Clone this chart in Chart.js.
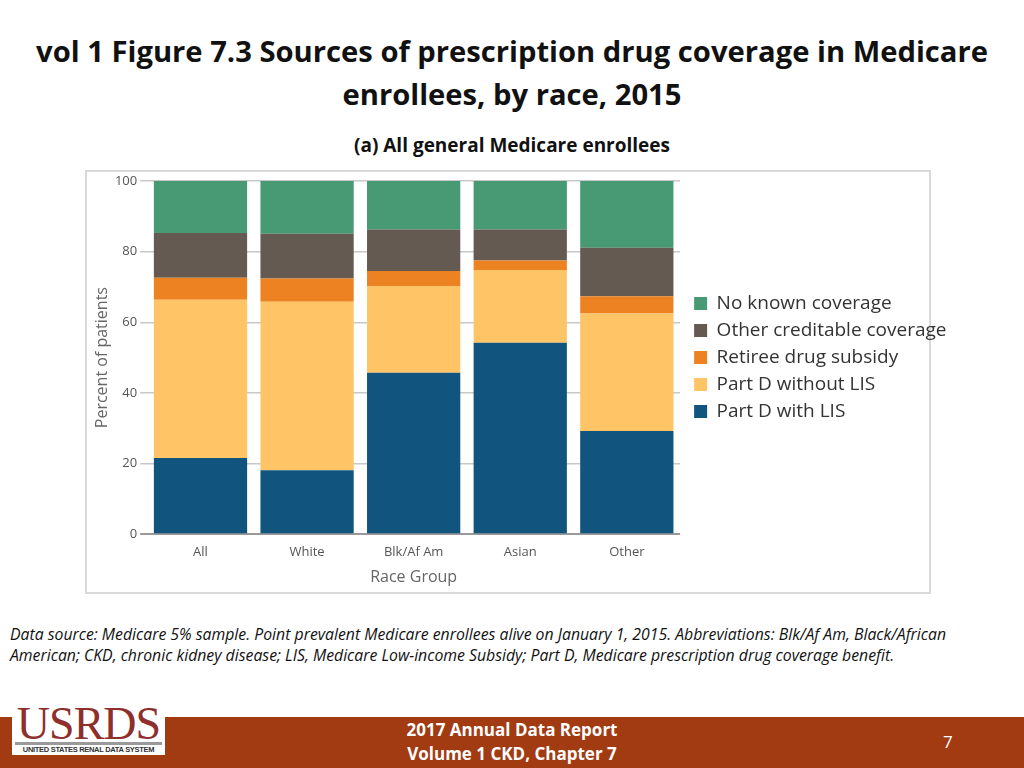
<!DOCTYPE html>
<html>
<head>
<meta charset="utf-8">
<script src="https://cdn.jsdelivr.net/npm/chart.js@4/dist/chart.umd.min.js"></script>
<style>
  body { margin: 0; width: 1024px; height: 768px; position: relative; background: #fff; overflow: hidden; font-family: "Open Sans", sans-serif; }
  #title { position: absolute; top: 30px; left: 0; width: 1024px; text-align: center; font-weight: bold; font-size: 29.2px; line-height: 43px; color: #111; white-space: nowrap; }
  #subtitle { position: absolute; top: 132px; left: 0; width: 1024px; text-align: center; font-weight: bold; font-size: 19px; color: #111; }
  #frame { position: absolute; left: 85px; top: 170px; width: 842px; height: 420px; border: 2px solid #d9d9d9; }
  #chart-box { position: absolute; left: 85px; top: 170px; width: 870px; height: 422px; }
  #note { position: absolute; left: 10px; top: 624px; width: 1010px; font-style: italic; font-size: 15.8px; line-height: 21px; color: #111; white-space: nowrap; }
  #footer { position: absolute; left: 0; top: 717px; width: 1024px; height: 51px; background: #a23a12; }
  #footer .mid { position: absolute; left: 0; width: 1024px; text-align: center; color: #fff; font-weight: bold; font-size: 17px; }
  #page { position: absolute; left: 943px; top: 730px; color: #fff; font-size: 17px; }
  #logo { position: absolute; left: 12px; top: 703px; width: 153px; height: 52px; background: #fff; }
  #logo .big { position: absolute; left: 0; top: -6px; width: 153px; text-align: center; font-family: "Liberation Serif", serif; font-size: 46px; color: #8e2f2b; letter-spacing: -1px; }
  #logo .bar { position: absolute; left: 3px; top: 39px; width: 147px; height: 3px; background: #9a9a9a; }
  #logo .small { position: absolute; left: 0; top: 42px; width: 153px; text-align: center; font-family: "Liberation Sans", sans-serif; font-weight: bold; font-size: 7.5px; color: #333; letter-spacing: -0.3px; white-space: nowrap; }
</style>
</head>
<body>
<div id="title">vol 1 Figure 7.3 Sources of prescription drug coverage in Medicare<br>enrollees, by race, 2015</div>
<div id="subtitle">(a) All general Medicare enrollees</div>
<div id="frame"></div>
<div id="chart-box"><canvas id="myChart"></canvas></div>
<div id="note">Data source: Medicare 5% sample. Point prevalent Medicare enrollees alive on January 1, 2015. Abbreviations: Blk/Af Am, Black/African<br>American; CKD, chronic kidney disease; LIS, Medicare Low-income Subsidy; Part D, Medicare prescription drug coverage benefit.</div>
<div id="footer">
  <div class="mid" style="top: 1px;">2017 Annual Data Report</div>
  <div class="mid" style="top: 25px;">Volume 1 CKD, Chapter 7</div>
</div>
<div id="logo"><div class="big">USRDS</div><div class="bar"></div><div class="small">UNITED STATES RENAL DATA SYSTEM</div></div>
<div id="page">7</div>
<script>
const raceGroups = ["All", "White", "Blk/Af Am", "Asian", "Other"];
const partDWithLIS = [21.6, 18.1, 45.7, 54.2, 29.2];
const partDWithoutLIS = [44.8, 47.7, 24.6, 20.6, 33.3];
const retireeSubsidy = [6.2, 6.6, 4.2, 2.7, 4.9];
const otherCreditable = [12.7, 12.7, 11.8, 8.8, 13.7];
const noKnownCoverage = [14.7, 14.9, 13.7, 13.7, 18.9];
const yTicks = [0, 20, 40, 60, 80, 100];

const ctx = document.getElementById('myChart');
const axisFont = { family: "'Open Sans', sans-serif", size: 13 };

// nudge the legend a bit away from the plot, like the original
const legendGap = {
    id: 'legendGap',
    afterLayout(chart) {
        if (chart.legend) {
            chart.legend.left += 6;
            chart.legend.right += 6;
        }
    }
};

// Bars stack bottom-up in this order, legend shows them reversed
const myChart = new Chart(ctx, {
    type: 'bar',
    plugins: [legendGap],
    data: {
        labels: raceGroups,
        datasets: [
            { label: 'Part D with LIS', data: partDWithLIS, backgroundColor: '#11557f' },
            { label: 'Part D without LIS', data: partDWithoutLIS, backgroundColor: '#fec466' },
            { label: 'Retiree drug subsidy', data: retireeSubsidy, backgroundColor: '#ec8222' },
            { label: 'Other creditable coverage', data: otherCreditable, backgroundColor: '#655a51' },
            { label: 'No known coverage', data: noKnownCoverage, backgroundColor: '#479a74' }
        ]
    },
    options: {
        responsive: true,
        maintainAspectRatio: false,
        animation: false,
        layout: { padding: { top: 11, left: 7.7, right: 4.5, bottom: 5 } },
        datasets: { bar: { barPercentage: 1, categoryPercentage: 0.875 } },
        plugins: {
            legend: {
                position: 'right',
                fullSize: false,
                reverse: true,
                maxWidth: 320,
                labels: {
                    boxWidth: 13,
                    boxHeight: 13,
                    padding: 8,
                    color: '#333',
                    font: { family: "'Open Sans', sans-serif", size: 19 }
                }
            },
            tooltip: { enabled: false }
        },
        scales: {
            x: {
                stacked: true,
                grid: { display: false },
                border: { display: false },
                ticks: { color: '#555', font: axisFont, padding: 2 },
                title: { display: true, text: 'Race Group', color: '#666', font: { family: "'Open Sans', sans-serif", size: 16 }, padding: { top: 6, bottom: 0 } }
            },
            y: {
                stacked: true,
                min: 0,
                max: 100,
                afterBuildTicks: (axis) => { axis.ticks = yTicks.map(v => ({ value: v })); },
                grid: {
                    color: (c) => c.tick && c.tick.value === 0 ? '#999' : '#c8c8c8',
                    lineWidth: (c) => c.tick && c.tick.value === 0 ? 2 : 1.5,
                    tickLength: 7
                },
                border: { display: false },
                ticks: { color: '#555', font: axisFont, padding: 3 },
                title: { display: true, text: 'Percent of patients', color: '#666', font: { family: "'Open Sans', sans-serif", size: 16 }, padding: { top: 0, bottom: 0 } }
            }
        }
    }
});
</script>
</body>
</html>
